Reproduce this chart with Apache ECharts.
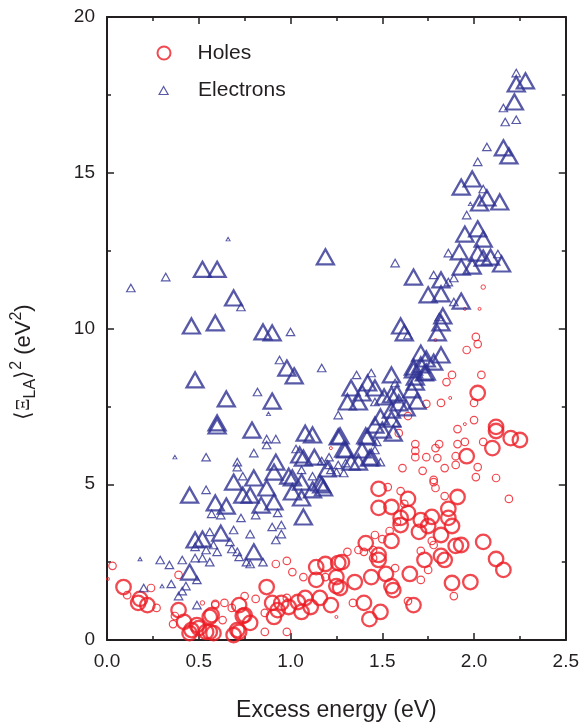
<!DOCTYPE html>
<html>
<head>
<meta charset="utf-8">
<script src="https://cdn.jsdelivr.net/npm/echarts@6/dist/echarts.min.js"></script>
<style>
    html, body {margin: 0; padding: 0; background: #fff;}
    #main {width: 582px; height: 727px;}
</style>
</head>
<body>
<div id="main"></div>
<script>
// [excess energy (eV), <Ξ_LA>^2 (eV^2), weight class]
let holes = [
    [2.01, 9.73, 2], [2.02, 9.5, 2], [1.96, 9.31, 2], [1.79, 9.63, 1], [2.04, 8.51, 2], [1.88, 8.51, 2],
    [1.85, 8.28, 2], [2.02, 7.93, 4], [2.0, 7.61, 2], [1.82, 7.61, 2], [1.87, 7.77, 1], [1.74, 7.58, 2],
    [1.64, 7.19, 2], [2.0, 7.06, 2], [1.95, 6.93, 1], [1.91, 6.77, 2], [2.12, 6.84, 4], [2.12, 6.71, 4],
    [2.2, 6.48, 4], [2.25, 6.42, 4], [2.05, 6.36, 2], [2.1, 6.16, 4], [1.95, 6.36, 2], [1.91, 6.29, 2],
    [1.96, 5.9, 4], [1.9, 5.9, 2], [1.9, 5.62, 2], [2.02, 5.55, 2], [2.01, 5.23, 2], [2.12, 5.2, 2],
    [1.68, 6.29, 2], [1.68, 6.07, 2], [1.68, 5.87, 2], [1.74, 5.87, 2], [1.79, 6.16, 2], [1.81, 6.29, 2],
    [1.8, 5.84, 2], [1.84, 5.52, 2], [1.72, 5.43, 2], [1.61, 5.52, 2], [1.78, 5.14, 2], [1.59, 6.64, 2],
    [1.22, 6.16, 1], [2.05, 11.33, 1.5], [2.03, 10.63, 1], [1.95, 10.63, 1],
    [1.48, 4.85, 4], [1.53, 4.91, 2], [1.6, 4.78, 2], [1.64, 4.53, 4], [1.62, 4.37, 2], [1.48, 4.24, 4],
    [1.55, 4.27, 4], [1.64, 4.08, 4], [1.6, 3.92, 4], [1.58, 3.79, 2], [1.6, 3.69, 4], [1.71, 3.85, 4],
    [1.77, 3.95, 4], [1.7, 3.47, 4], [1.75, 3.66, 4], [1.86, 4.21, 4], [1.86, 3.92, 4], [1.88, 3.66, 4],
    [1.82, 3.37, 4], [1.91, 4.59, 4], [1.84, 4.62, 2], [1.79, 4.88, 2], [1.78, 5.07, 2], [2.19, 4.53, 2],
    [1.54, 3.5, 2], [1.46, 3.37, 2], [1.5, 3.24, 2], [1.55, 3.18, 4], [1.77, 3.18, 2], [1.78, 3.05, 2],
    [1.9, 3.02, 4], [1.93, 3.05, 4], [2.05, 3.15, 4], [1.41, 3.11, 4], [1.37, 2.89, 2], [1.4, 2.83, 2],
    [1.45, 2.89, 2], [1.31, 2.83, 2], [1.45, 2.63, 2], [1.48, 2.73, 4], [1.48, 2.57, 4], [1.71, 2.86, 2],
    [1.73, 2.57, 4], [1.75, 2.25, 2], [1.71, 1.93, 2], [1.82, 2.7, 4], [1.84, 2.57, 4], [2.12, 2.6, 4],
    [2.16, 2.25, 4], [1.65, 2.12, 4], [1.57, 2.31, 2], [1.52, 2.12, 4], [1.55, 1.73, 4], [1.56, 1.6, 4],
    [1.44, 2.02, 4], [1.35, 1.86, 4], [1.26, 2.47, 4], [1.28, 2.5, 4], [1.25, 2.02, 4], [1.25, 1.73, 4],
    [1.27, 1.67, 4], [1.88, 1.83, 4], [1.98, 1.86, 4], [1.89, 1.41, 2], [1.4, 1.19, 4], [1.49, 0.9, 4],
    [1.43, 0.67, 4], [1.34, 1.19, 2], [1.67, 1.12, 4], [1.64, 1.25, 2], [1.22, 1.12, 4], [1.25, 0.74, 1],
    [0.92, 2.44, 2], [0.98, 2.54, 2], [1.01, 2.18, 2], [0.87, 1.7, 4], [1.07, 2.02, 2], [1.14, 2.34, 4],
    [1.14, 1.93, 4], [1.19, 2.44, 4], [1.19, 2.02, 2], [1.16, 1.35, 4], [1.08, 1.35, 4], [1.04, 1.22, 4],
    [1.11, 1.06, 4], [1.06, 0.9, 4], [0.99, 1.06, 4], [0.95, 1.19, 4], [0.9, 1.19, 4], [0.93, 0.96, 4],
    [0.91, 0.74, 4], [0.86, 0.87, 2], [0.98, 1.35, 2], [0.81, 1.32, 2], [0.75, 1.41, 2], [0.72, 1.12, 4],
    [0.75, 0.8, 4], [0.71, 0.32, 4], [0.78, 0.55, 4], [0.68, 1.03, 2], [0.64, 1.19, 2], [0.59, 1.16, 2],
    [0.63, 0.64, 2], [0.57, 0.8, 4], [0.49, 0.48, 4], [0.46, 0.32, 4], [0.54, 0.26, 4], [0.58, 0.22, 4],
    [0.69, 0.16, 4], [0.52, 1.19, 1.5], [0.86, 0.26, 2], [0.98, 0.26, 2],
    [0.03, 2.38, 2], [0.005, 1.96, 1], [0.09, 1.7, 4], [0.11, 1.44, 2], [0.24, 1.67, 2], [0.18, 1.32, 4],
    [0.17, 1.19, 4], [0.22, 1.12, 4], [0.27, 1.03, 2], [0.39, 2.09, 2], [0.39, 0.96, 4], [0.37, 0.77, 2],
    [0.36, 0.51, 2], [0.42, 0.58, 4], [0.45, 0.22, 4], [0.5, 0.38, 4], [0.56, 0.74, 4], [0.56, 0.26, 4],
    [0.59, 1.12, 2], [0.74, 0.77, 4], [0.72, 0.26, 4]
];

let electrons = [
    [2.23, 18.2, 2], [2.28, 17.95, 4], [2.23, 17.85, 4], [2.22, 17.27, 4], [2.16, 17.08, 2], [2.17, 16.63, 2],
    [2.23, 16.7, 2], [2.07, 15.83, 2], [2.16, 15.8, 4], [2.19, 15.54, 4], [2.02, 15.35, 2], [1.99, 14.8, 4],
    [1.93, 14.54, 4], [2.05, 14.48, 2], [2.07, 14.19, 4], [2.14, 14.06, 4], [2.03, 14.03, 4], [1.98, 14.0, 1],
    [1.96, 13.64, 2], [2.02, 13.2, 4], [1.95, 13.03, 4], [2.05, 12.87, 4], [1.86, 12.42, 2], [1.92, 12.46, 4],
    [2.02, 12.42, 4], [2.05, 12.26, 4], [2.09, 12.29, 4], [2.13, 12.39, 2], [2.15, 12.07, 4], [1.93, 11.97, 4],
    [1.99, 12.0, 4], [1.67, 11.65, 4], [1.57, 12.1, 2], [1.19, 12.3, 4], [1.78, 11.72, 2], [1.82, 11.56, 4],
    [1.86, 11.49, 2], [1.89, 11.62, 2], [1.75, 11.08, 4], [1.82, 11.11, 4], [1.93, 10.88, 4], [1.89, 10.85, 2],
    [1.81, 10.37, 2], [1.83, 10.4, 4], [1.82, 10.18, 4], [1.6, 10.08, 4], [1.62, 9.86, 4], [1.64, 9.79, 2],
    [1.8, 9.86, 4],
    [0.66, 12.87, 1], [0.52, 11.9, 4], [0.6, 11.9, 4], [0.32, 11.65, 2], [0.13, 11.3, 2], [0.69, 10.98, 4],
    [0.73, 10.69, 2], [0.46, 10.08, 4], [0.59, 10.18, 4], [0.85, 9.89, 4], [0.9, 9.86, 4], [1.0, 9.89, 2],
    [0.94, 8.99, 2], [0.98, 8.73, 4], [1.02, 8.48, 4], [1.17, 8.73, 2], [0.48, 8.35, 4], [0.65, 7.74, 4],
    [0.82, 7.96, 2], [0.9, 7.67, 4], [0.88, 7.26, 1], [0.6, 6.97, 4], [0.6, 6.87, 4], [0.79, 6.74, 4],
    [0.87, 6.45, 2], [0.92, 6.45, 2], [0.87, 6.26, 2], [1.08, 6.64, 4], [1.12, 6.58, 4], [1.26, 6.52, 4],
    [0.37, 5.87, 1], [0.54, 5.87, 2], [0.8, 6.0, 2], [0.71, 5.71, 2], [0.71, 5.55, 2], [0.92, 5.71, 4],
    [1.03, 6.13, 2], [1.05, 5.94, 4], [1.07, 5.84, 4], [1.13, 5.87, 4], [1.21, 5.87, 2], [1.17, 5.75, 2],
    [1.2, 5.49, 4], [1.25, 5.39, 2], [0.74, 5.26, 2], [0.8, 5.2, 4], [0.91, 5.39, 4], [0.99, 5.26, 4],
    [1.01, 5.2, 4], [1.06, 5.46, 2], [1.06, 5.07, 4], [1.12, 5.26, 2], [0.69, 5.07, 4], [1.17, 4.98, 4],
    [0.45, 4.65, 4], [0.54, 4.82, 2], [0.59, 4.4, 4], [0.65, 4.3, 4], [0.57, 4.05, 2], [0.62, 4.01, 2],
    [0.78, 4.65, 4], [0.74, 4.65, 4], [0.87, 4.88, 4], [0.91, 4.43, 4], [0.84, 4.33, 4], [0.81, 4.01, 2],
    [0.73, 3.92, 2], [0.93, 4.08, 2], [1.01, 4.75, 4], [1.06, 4.56, 4], [1.12, 4.82, 4], [1.18, 4.88, 4],
    [1.07, 3.95, 4], [0.9, 3.63, 2], [0.95, 3.69, 2], [0.95, 3.4, 2], [0.92, 3.21, 2], [0.69, 3.53, 2],
    [0.78, 3.4, 2], [0.62, 3.43, 4], [0.48, 3.21, 4], [0.52, 3.24, 4], [0.56, 3.47, 2], [0.48, 2.99, 2],
    [0.58, 3.05, 2], [0.6, 2.83, 2], [0.67, 3.15, 2], [0.68, 2.92, 2], [0.71, 2.83, 2], [0.72, 2.67, 2],
    [0.8, 2.83, 4], [0.76, 2.5, 2], [0.78, 2.44, 2], [0.85, 2.5, 2], [0.54, 2.89, 2], [0.52, 2.63, 2],
    [0.56, 2.5, 2], [0.41, 2.57, 2], [0.48, 2.63, 2], [0.29, 2.57, 2], [0.34, 2.41, 2], [0.18, 2.6, 1],
    [0.45, 2.18, 4], [0.49, 1.93, 2], [0.35, 1.8, 2], [0.3, 1.73, 1], [0.43, 1.73, 2], [0.41, 1.57, 2],
    [0.2, 1.67, 2], [0.39, 1.41, 2], [0.49, 1.12, 2],
    [1.36, 8.51, 2], [1.44, 8.57, 2], [1.55, 8.51, 4], [1.67, 8.67, 4], [1.73, 8.57, 4], [1.71, 8.83, 4],
    [1.78, 8.92, 4], [1.42, 8.25, 4], [1.46, 8.09, 4], [1.57, 8.25, 2], [1.68, 8.28, 4], [1.33, 8.09, 4],
    [1.39, 7.93, 4], [1.51, 7.8, 4], [1.58, 7.93, 4], [1.66, 8.03, 4], [1.31, 7.64, 4], [1.37, 7.64, 4],
    [1.46, 7.64, 2], [1.59, 7.61, 4], [1.69, 7.67, 4], [1.63, 7.45, 4], [1.55, 7.38, 4], [1.26, 7.22, 2],
    [1.49, 7.16, 4], [1.55, 7.09, 4], [1.58, 6.97, 2], [1.46, 6.9, 4], [1.5, 6.74, 4], [1.56, 6.64, 4],
    [1.42, 6.52, 4], [1.47, 6.36, 2], [1.3, 6.1, 4], [1.39, 6.1, 4], [1.43, 5.84, 4], [1.46, 6.1, 2],
    [1.49, 5.71, 2], [1.33, 5.71, 4], [1.21, 5.62, 2], [1.26, 5.62, 2], [1.3, 5.68, 2], [1.29, 5.36, 2],
    [1.22, 5.46, 2], [1.16, 5.04, 4],
    [1.71, 9.21, 4], [1.74, 9.02, 4], [1.82, 9.15, 4], [1.67, 8.76, 4], [1.74, 8.6, 4], [1.68, 8.44, 4],
    [1.55, 7.87, 4], [1.27, 6.55, 4], [1.41, 6.55, 4], [1.29, 6.13, 4], [1.44, 5.87, 4], [1.37, 5.71, 4]
];

let xTicks = [0, 2.5, 0.5];
let yTicks = [0, 20, 5];

let red = '#ec1c24', blue = '#2e3192', ink = '#231f20';

// 大小等级 -> 像素
function circleSize(s) {
    if (s >= 4) return 14.5;
    if (s >= 2) return 7.5;
    if (s >= 1.5) return 4.5;
    return 3;
}
function triSize(s) {
    if (s >= 4) return [17, 15];
    if (s >= 2) return [8.5, 7.5];
    return [4, 3.5];
}
function lineW(s) {
    if (s >= 4) return 2.3;
    if (s >= 2) return 1.2;
    return 1;
}

function axisX(pos, showLabel) {
    return {
        type: 'value', position: pos, min: xTicks[0], max: xTicks[1], interval: xTicks[2],
        axisLine: {show: true, onZero: false, lineStyle: {color: ink, width: 2}},
        axisTick: {show: true, inside: true, length: 7, lineStyle: {color: ink, width: 1.5}},
        minorTick: {show: true, splitNumber: 2, length: 4, lineStyle: {color: ink, width: 1.5}},
        splitLine: {show: false},
        axisLabel: {
            show: showLabel, margin: 12, fontSize: 19, color: ink, fontFamily: 'Liberation Sans',
            formatter: function (v) { return v.toFixed(1); }
        },
        name: showLabel ? 'Excess energy (eV)' : '',
        nameLocation: 'middle', nameGap: 59,
        nameTextStyle: {fontSize: 23, color: ink, fontFamily: 'Liberation Sans'}
    };
}
function axisY(pos, showLabel) {
    return {
        type: 'value', position: pos, min: yTicks[0], max: yTicks[1], interval: yTicks[2],
        axisLine: {show: true, onZero: false, lineStyle: {color: ink, width: 2}},
        axisTick: {show: true, inside: true, length: 7, lineStyle: {color: ink, width: 1.5}},
        minorTick: {show: true, splitNumber: 2, length: 4, lineStyle: {color: ink, width: 1.5}},
        splitLine: {show: false},
        axisLabel: {show: showLabel, margin: 12, fontSize: 19, color: ink, fontFamily: 'Liberation Sans'}
    };
}

let myChart = echarts.init(document.getElementById('main'));
let option = {
    animation: false,
    backgroundColor: '#fff',
    grid: {left: 107, right: 14, top: 17, bottom: 87},
    xAxis: [axisX('bottom', true), axisX('top', false)],
    yAxis: [axisY('left', true), axisY('right', false)],
    legend: [
        {
            left: 156.5, top: 42.5, padding: 0, itemWidth: 13, itemHeight: 13, selectedMode: false,
            textStyle: {fontSize: 21, color: ink, fontFamily: 'Liberation Sans', padding: [0, 0, 0, 22]},
            data: [{name: 'Holes', icon: 'circle', itemStyle: {color: 'rgba(0,0,0,0)', borderColor: red, borderWidth: 2}}]
        },
        {
            left: 158.5, top: 80, padding: 0, itemWidth: 9, itemHeight: 8, selectedMode: false,
            textStyle: {fontSize: 21, color: ink, fontFamily: 'Liberation Sans', padding: [0, 0, 0, 25]},
            data: [{name: 'Electrons', icon: 'triangle', itemStyle: {color: 'rgba(0,0,0,0)', borderColor: blue, borderWidth: 1.2}}]
        }
    ],
    graphic: [{
        type: 'text', x: 24, y: 362, rotation: Math.PI / 2,
        style: {
            text: '{a|⟨}{x|Ξ}{s|LA}{a|⟩}{p|2}{a| (eV}{p|2}{a|)}',
            textAlign: 'center', textVerticalAlign: 'middle',
            rich: {
                a: {fontSize: 22, fontFamily: 'Liberation Sans', fill: ink, lineHeight: 30},
                x: {fontSize: 19, fontFamily: 'Liberation Serif', fill: ink, lineHeight: 30},
                s: {fontSize: 16, fontFamily: 'Liberation Sans', fill: ink, verticalAlign: 'bottom', lineHeight: 30},
                p: {fontSize: 16, fontFamily: 'Liberation Sans', fill: ink, verticalAlign: 'top', lineHeight: 30}
            }
        }
    }],
    series: [
        {
            name: 'Holes', type: 'scatter', symbol: 'circle',
            symbolSize: function (v) { return circleSize(v[2]); },
            itemStyle: {color: 'rgba(0,0,0,0)', borderColor: red, borderWidth: 1.2},
            emphasis: {disabled: true},
            data: holes.map(function (d) {
                return {value: d, itemStyle: {borderWidth: lineW(d[2])}};
            })
        },
        {
            name: 'Electrons', type: 'scatter', symbol: 'triangle',
            symbolSize: function (v) { return triSize(v[2]); },
            itemStyle: {color: 'rgba(0,0,0,0)', borderColor: blue, borderWidth: 1.2},
            emphasis: {disabled: true},
            data: electrons.map(function (d) {
                return {value: d, itemStyle: {borderWidth: lineW(d[2])}};
            })
        }
    ]
};
myChart.setOption(option);
</script>
</body>
</html>
